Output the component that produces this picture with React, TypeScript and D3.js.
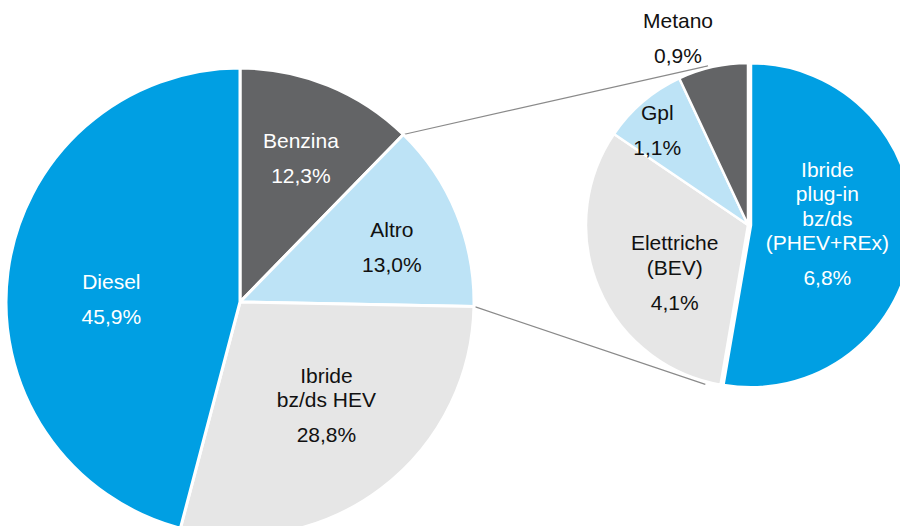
import React from "react";
import * as d3 from "d3";

// ---- data ----
const mainCategories = ["Benzina", "Altro", "Ibride bz/ds HEV", "Diesel"];
const mainValues = [12.3, 13.0, 28.8, 45.9];
const mainLabels = [["Benzina"], ["Altro"], ["Ibride", "bz/ds HEV"], ["Diesel"]];
const mainPct = ["12,3%", "13,0%", "28,8%", "45,9%"];

const subCategories = ["Ibride plug-in", "Elettriche", "Gpl", "Metano"];
const subValues = [6.8, 4.1, 1.1, 0.9];
const subLabels = [["Ibride", "plug-in", "bz/ds", "(PHEV+REx)"], ["Elettriche", "(BEV)"], ["Gpl"], ["Metano"]];
const subPct = ["6,8%", "4,1%", "1,1%", "0,9%"];

// ---- styles / layout ----
const mainColors = ["#636466", "#BDE3F6", "#E6E6E6", "#009FE3"];
const mainText = ["#ffffff", "#111111", "#111111", "#ffffff"];
const subColors = ["#009FE3", "#E6E6E6", "#BDE3F6", "#636466"];
const subText = ["#ffffff", "#111111", "#111111", "#111111"];

const W = 900, H = 526;
const M = { cx: 240, cy: 302, r: 234 };
const S = { cx: 748, cy: 225, r: 162 };
// label polar placement: radius ratio and angle delta (deg) vs slice mid-angle
const mainLabelPos = [[0.668, 0.8], [0.69, 2.5], [0.575, -2.9], [0.55, -6.2]];
const subLabelPos = [[0.49, -5.9], [0.54, -10], [0.81, -3.3], [1.23, -8]];
const subExplode = [3, 0, 0, 0];

const FONT = "'Liberation Sans', Arial, sans-serif";
const FS = 21;
const LINE = 24.5;
const PCT_GAP = 35;
const CAP = 15;

type Arc = d3.PieArcDatum<number>;

function Label({ x, y, lines, pct, color }: { x: number; y: number; lines: string[]; pct: string; color: string }) {
  const lastRel = (lines.length - 1) * LINE;
  const pctRel = lastRel + PCT_GAP;
  const y0 = y - (pctRel - CAP) / 2; // first baseline
  return (
    <text fill={color} fontFamily={FONT} fontSize={FS} textAnchor="middle" x={x} y={y0}>
      {lines.map((l, i) => (
        <tspan key={i} x={x} y={y0 + i * LINE}>{l}</tspan>
      ))}
      <tspan x={x} y={y0 + pctRel}>{pct}</tspan>
    </text>
  );
}

function polar(cx: number, cy: number, r: number, a: number): [number, number] {
  return [cx + r * Math.sin(a), cy - r * Math.cos(a)];
}

export default function App() {
  const pie = d3.pie<number>().sort(null).value((d) => d);
  const mainArcs = pie(mainValues);
  const subArcs = pie(subValues);
  const mainArc = d3.arc<Arc>().innerRadius(0).outerRadius(M.r);
  const subArc = d3.arc<Arc>().innerRadius(0).outerRadius(S.r);

  // connector lines: from "Altro" slice edges to the second pie's rim
  const altro = mainArcs[1];
  const p1 = polar(M.cx, M.cy, M.r, altro.startAngle);
  const p2 = polar(M.cx, M.cy, M.r, altro.endAngle);
  const q1 = polar(S.cx, S.cy, S.r + 2, (-14.1 * Math.PI) / 180);
  const q2 = polar(S.cx, S.cy, S.r + 3, (195 * Math.PI) / 180);

  const deg = Math.PI / 180;

  return (
    <svg width={W} height={H} style={{ position: "absolute", left: 0, top: 0, background: "#fff" }}>
      <line x1={p1[0]} y1={p1[1]} x2={q1[0]} y2={q1[1]} stroke="#8a8a8a" strokeWidth={1.2} />
      <line x1={p2[0]} y1={p2[1]} x2={q2[0]} y2={q2[1]} stroke="#8a8a8a" strokeWidth={1.2} />
      <g transform={`translate(${M.cx},${M.cy})`}>
        {mainArcs.map((a, i) => (
          <path key={mainCategories[i]} d={mainArc(a) || ""} fill={mainColors[i]} stroke="#fff" strokeWidth={3} strokeLinejoin="round" />
        ))}
      </g>
      <g transform={`translate(${S.cx},${S.cy})`}>
        {subArcs.map((a, i) => {
          const mid = (a.startAngle + a.endAngle) / 2;
          const [ox, oy] = polar(0, 0, subExplode[i], mid);
          return (
            <path key={subCategories[i]} transform={`translate(${ox},${oy})`} d={subArc(a) || ""} fill={subColors[i]} stroke="#fff" strokeWidth={2.5} strokeLinejoin="round" />
          );
        })}
      </g>
      {mainArcs.map((a, i) => {
        const mid = (a.startAngle + a.endAngle) / 2 + mainLabelPos[i][1] * deg;
        const [x, y] = polar(M.cx, M.cy, M.r * mainLabelPos[i][0], mid);
        return <Label key={i} x={x} y={y} lines={mainLabels[i]} pct={mainPct[i]} color={mainText[i]} />;
      })}
      {subArcs.map((a, i) => {
        const mid = (a.startAngle + a.endAngle) / 2 + subLabelPos[i][1] * deg;
        const [x, y] = polar(S.cx, S.cy, S.r * subLabelPos[i][0], mid);
        return <Label key={i} x={x} y={y} lines={subLabels[i]} pct={subPct[i]} color={subText[i]} />;
      })}
    </svg>
  );
}
